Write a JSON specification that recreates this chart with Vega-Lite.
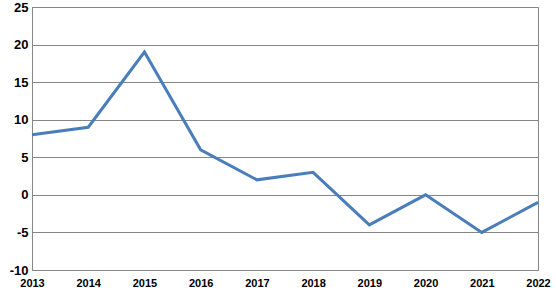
{
  "$schema": "https://vega.github.io/schema/vega-lite/v6.json",
  "autosize": "none",
  "width": 506,
  "height": 263,
  "padding": {"left": 32, "top": 7, "right": 18, "bottom": 20},
  "background": "white",
  "config": {
    "view": {"stroke": "#868686", "strokeWidth": 1},
    "axis": {"labelFont": "Liberation Sans", "labelFontWeight": "bold", "labelColor": "black", "domainColor": "#868686", "gridColor": "#868686", "tickColor": "#868686", "tickSize": 0}
  },
  "data": {"values": [
    {"year": "2013", "value": 8},
    {"year": "2014", "value": 9},
    {"year": "2015", "value": 19},
    {"year": "2016", "value": 6},
    {"year": "2017", "value": 2},
    {"year": "2018", "value": 3},
    {"year": "2019", "value": -4},
    {"year": "2020", "value": 0},
    {"year": "2021", "value": -5},
    {"year": "2022", "value": -1}
  ]},
  "mark": {"type": "line", "color": "#4A7EBB", "strokeWidth": 3},
  "encoding": {
    "x": {"field": "year", "type": "ordinal", "scale": {"type": "point", "padding": 0},
      "axis": {"title": null, "labelAngle": 0, "labelFontSize": 11, "labelPadding": 7, "grid": false}},
    "y": {"field": "value", "type": "quantitative", "scale": {"domain": [-10, 25], "nice": false},
      "axis": {"title": null, "values": [-10, -5, 0, 5, 10, 15, 20, 25], "labelExpr": "'' + datum.value", "labelFontSize": 13, "labelPadding": 4, "grid": true}}
  }
}
